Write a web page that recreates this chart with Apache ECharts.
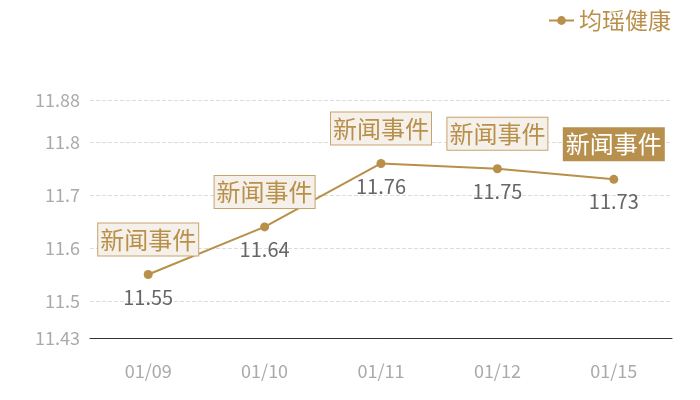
<!DOCTYPE html>
<html>
<head>
<meta charset="utf-8">
<script src="https://cdn.jsdelivr.net/npm/echarts@6/dist/echarts.min.js"></script>
<style>
  html, body { margin: 0; padding: 0; background: #fff; }
  #main { width: 700px; height: 400px; }
</style>
</head>
<body>
<div id="main"></div>
<script>
// 数据
var days = ['01/09', '01/10', '01/11', '01/12', '01/15'];
var prices = [11.55, 11.64, 11.76, 11.75, 11.73];
var eventText = '新闻事件';
var yMin = 11.43;
var yMax = 11.88;

var gold = '#b8904a';

// 新闻事件标注，最后一个为实心
var marks = days.map(function (d, i) {
    var last = i === days.length - 1;
    return {
        coord: [i, prices[i]],
        label: {
            backgroundColor: last ? '#b8904e' : '#f5f0ea',
            borderColor: last ? '#b8904e' : '#c9a46a',
            color: last ? '#fff' : gold
        }
    };
});

var option = {
    backgroundColor: '#fff',
    textStyle: { fontFamily: 'Noto Sans CJK SC' },
    legend: {
        right: 24,
        top: 4,
        itemWidth: 25,
        itemHeight: 11,
        itemGap: 8,
        textStyle: { color: gold, fontSize: 23 },
        data: ['均瑶健康']
    },
    grid: { left: 90, right: 28, top: 100, bottom: 62 },
    xAxis: {
        type: 'category',
        data: days,
        axisLine: { lineStyle: { color: '#333' } },
        axisTick: { show: false },
        axisLabel: { color: '#aaa', fontSize: 18, margin: 24 }
    },
    yAxis: {
        type: 'value',
        min: yMin,
        max: yMax,
        axisLine: { show: false },
        axisTick: { show: false },
        axisLabel: { color: '#aaa', fontSize: 18, margin: 10 },
        splitLine: { lineStyle: { color: '#ddd', type: 'dashed' } }
    },
    series: [{
        name: '均瑶健康',
        type: 'line',
        data: prices,
        symbol: 'circle',
        symbolSize: 9,
        itemStyle: { color: gold },
        lineStyle: { color: gold, width: 2 },
        label: {
            show: true,
            position: 'bottom',
            distance: 8,
            color: '#666',
            fontSize: 20
        },
        markPoint: {
            symbol: 'circle',
            symbolSize: 0,
            label: {
                show: true,
                formatter: eventText,
                fontSize: 24,
                borderWidth: 1,
                padding: [5, 2, 3, 2],
                offset: [0, -35]
            },
            data: marks
        }
    }]
};

var myChart = echarts.init(document.getElementById('main'));
myChart.setOption(option);
</script>
</body>
</html>
